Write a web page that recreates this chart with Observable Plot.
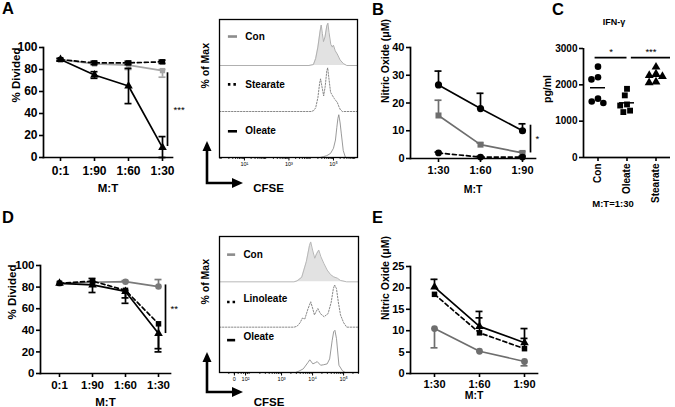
<!DOCTYPE html>
<html>
<head>
<meta charset="utf-8">
<script src="https://cdn.jsdelivr.net/npm/d3@7"></script>
<script src="https://cdn.jsdelivr.net/npm/@observablehq/plot@0.6"></script>
<style>
html,body{margin:0;padding:0;background:#fff;}
#fig{position:relative;width:675px;height:407px;overflow:hidden;background:#fff;}
.panel{position:absolute;}
.panel svg{overflow:visible;display:block;}
#overlay{position:absolute;left:0;top:0;pointer-events:none;}
</style>
</head>
<body>
<div id="fig"></div>
<script>
const FONT = '"Liberation Sans", Arial, Helvetica, sans-serif';

// ================= DATA =================
// Panel A: % divided vs M:T ratio
const A_cats = ["0:1", "1:90", "1:60", "1:30"];
const A_con_v  = [89, 85, 84, 79];
const A_con_lo = [89, 85, 80, 73];
const A_con_hi = [89, 86, 86, 80];
const A_ste_v  = [89, 86, 86, 87];
const A_ste_lo = [88, 84.5, 84.5, 85.5];
const A_ste_hi = [90, 87.5, 87.5, 88.5];
const A_ole_v  = [89, 75, 65, 9];
const A_ole_lo = [88, 72, 49, 0];
const A_ole_hi = [90, 78, 81, 19];
const A_yTicks = [0, 20, 40, 60, 80, 100];
const A_sig = {cat: "1:30", y1: 10, y2: 77, label: "***"};

// Panel A histograms (x in CFSE decades, height in % of max)
const HA_con_x = [3.9, 4.1, 4.2, 4.3, 4.4, 4.45, 4.5, 4.55, 4.62, 4.7, 4.75, 4.8, 4.88, 4.95, 5.0, 5.08, 5.17, 5.3, 5.45, 5.6];
const HA_con_h = [0, 2, 15, 40, 75, 88, 70, 52, 62, 86, 92, 72, 46, 40, 44, 32, 25, 12, 4, 0];
const HA_ste_x = [4.0, 4.11, 4.2, 4.3, 4.38, 4.42, 4.48, 4.56, 4.63, 4.7, 4.74, 4.8, 4.87, 4.95, 5.04, 5.1, 5.17, 5.25, 5.31, 5.4];
const HA_ste_h = [0, 2, 8, 30, 62, 71, 55, 34, 55, 88, 95, 70, 42, 35, 28, 24, 20, 10, 4, 0];
const HA_ole_x = [4.4, 4.56, 4.7, 4.87, 5.0, 5.09, 5.15, 5.2, 5.24, 5.3, 5.35, 5.44, 5.54];
const HA_ole_h = [0, 2, 4, 9, 20, 38, 65, 85, 93, 75, 53, 15, 0];
const HA_tickPos = [1, 3, 5];
const HA_tickLabels = ["10¹", "10³", "10⁵"];

// Panel B: nitric oxide
const B_cats = ["1:30", "1:60", "1:90"];
const B_ole_v  = [26.5, 18, 10];
const B_ole_hi = [31.5, 23.5, 12.5];
const B_con_v  = [15.5, 5, 2];
const B_con_hi = [21, 5.6, 2.5];
const B_ste_v  = [2, 0.5, 0.5];
const B_ste_hi = [2.3, 0.8, 0.8];
const B_yTicks = [0, 10, 20, 30, 40];
const B_sig = {cat: "1:90", y1: 2, y2: 12, label: "*"};

// Panel C: IFN-gamma, M:T = 1:30
const C_groups = ["Con", "Oleate", "Stearate"];
const C_con = [2500, 2210, 2150, 1620, 1540, 1500];
const C_ole = [1890, 1710, 1460, 1430, 1290, 1250];
const C_ste = [2490, 2300, 2260, 2230, 2080, 2060];
const C_yTicks = [0, 1000, 2000, 3000];

// Panel D: % divided
const D_cats = ["0:1", "1:90", "1:60", "1:30"];
const D_con_v  = [83.5, 84.5, 85, 80.5];
const D_con_hi = [83.5, 85.5, 86, 87];
const D_lin_v  = [83.5, 85.5, 77, 46];
const D_lin_lo = [83.5, 85.5, 70, 23];
const D_ole_v  = [83.5, 82, 76, 37];
const D_ole_lo = [83.5, 75, 65, 20];
const D_ole_hi = [83.5, 88, 77, 37];
const D_yTicks = [0, 20, 40, 60, 80, 100];
const D_sig = {cat: "1:30", y1: 37, y2: 82, label: "**"};

// Panel D histograms
const HD_con_x = [3.4, 3.5, 3.65, 3.8, 3.9, 3.94, 4.0, 4.07, 4.13, 4.2, 4.27, 4.36, 4.47, 4.58, 4.68, 4.8, 4.9, 5.1];
const HD_con_h = [0, 2, 10, 45, 80, 88, 70, 52, 62, 70, 55, 41, 26, 16, 11, 8, 3, 0];
const HD_lin_x = [3.4, 3.5, 3.6, 3.67, 3.75, 3.85, 3.94, 4.0, 4.06, 4.12, 4.17, 4.25, 4.37, 4.5, 4.6, 4.67, 4.71, 4.77, 4.83, 4.9, 5.0, 5.1];
const HD_lin_h = [0, 2, 10, 20, 18, 40, 56, 42, 27, 35, 41, 30, 23, 30, 55, 85, 93, 85, 55, 27, 10, 0];
const HD_ole_x = [3.45, 3.56, 3.7, 3.85, 3.91, 4.01, 4.1, 4.15, 4.26, 4.35, 4.47, 4.55, 4.63, 4.68, 4.72, 4.77, 4.85, 4.96, 5.05];
const HD_ole_h = [0, 3, 8, 22, 28, 19, 22, 24, 16, 17, 19, 30, 70, 90, 93, 75, 16, 4, 0];
const HD_tickPos = [1.48, 1.84, 3, 4, 5];
const HD_tickLabels = ["0", "10²", "10³", "10⁴", "10⁵"];

// Panel E: nitric oxide
const E_cats = ["1:30", "1:60", "1:90"];
const E_ole_v  = [20.2, 11, 7.2];
const E_ole_hi = [22, 14.5, 10.5];
const E_lin_v  = [18.5, 9.5, 5.8];
const E_lin_hi = [18.5, 13, 8.2];
const E_con_v  = [10.5, 5.2, 2.8];
const E_con_lo = [6, 5.2, 1.8];
const E_yTicks = [0, 5, 10, 15, 20, 25];

// ================= HELPERS =================
const fig = document.getElementById("fig");
function place(node, left, top) {
  const w = document.createElement("div");
  w.className = "panel";
  w.style.left = left + "px";
  w.style.top = top + "px";
  w.appendChild(node);
  fig.appendChild(w);
}
function rows(cats, v, lo, hi) {
  lo = lo || v; hi = hi || v;
  return cats.map((c, i) => ({cat: c, v: v[i], lo: lo[i], hi: hi[i]}));
}

function linePanel(cfg) {
  const marks = [];
  const sw = 1.7;
  for (const s of cfg.series) {
    const r = s.rows;
    marks.push(Plot.line(r, {x: "cat", y: "v", stroke: s.color, strokeWidth: sw, strokeDasharray: s.dash}));
    marks.push(Plot.ruleX(r.filter(d => d.lo !== d.hi), {x: "cat", y1: "lo", y2: "hi", stroke: s.color, strokeWidth: sw}));
    marks.push(Plot.ruleY(r.filter(d => d.hi > d.v), {y: "hi", x1: "cat", x2: "cat", insetLeft: -3.5, insetRight: -3.5, stroke: s.color, strokeWidth: sw}));
    marks.push(Plot.ruleY(r.filter(d => d.lo < d.v), {y: "lo", x1: "cat", x2: "cat", insetLeft: -3.5, insetRight: -3.5, stroke: s.color, strokeWidth: sw}));
    marks.push(Plot.dot(r, {x: "cat", y: "v", symbol: s.symbol, fill: s.color, stroke: "none", r: s.r || 3.2}));
  }
  if (cfg.sig) {
    marks.push(Plot.ruleX([cfg.sig], {x: "cat", y1: "y1", y2: "y2", dx: cfg.sigDx, strokeWidth: 1.7}));
    marks.push(Plot.text([cfg.sig], {x: "cat", y: d => (d.y1 + d.y2) / 2, text: "label", dx: cfg.sigTextDx, textAnchor: "start", fontSize: 9.5, fontWeight: "normal"}));
  }
  marks.push(Plot.axisY({ticks: cfg.yTicks, tickSize: 4, tickPadding: 2, strokeWidth: 1.6, label: null}));
  marks.push(Plot.axisX({tickSize: 4, tickPadding: cfg.xTickPad, strokeWidth: 1.6, label: null}));
  marks.push(Plot.frame({anchor: "left", strokeWidth: 1.7}));
  marks.push(Plot.frame({anchor: "bottom", strokeWidth: 1.7}));
  marks.push(Plot.text([cfg.yLabel], {text: d => d, frameAnchor: "left", rotate: -90, dx: cfg.yLabelDx, lineAnchor: "middle", fontSize: cfg.labelFont}));
  marks.push(Plot.text(["M:T"], {text: d => d, frameAnchor: "bottom", dy: cfg.xLabelDy, lineAnchor: "middle", fontSize: cfg.labelFont}));
  return Plot.plot({
    width: cfg.width, height: cfg.height,
    marginLeft: cfg.mL, marginRight: cfg.mR, marginTop: cfg.mT, marginBottom: cfg.mB,
    x: {type: "point", domain: cfg.cats, range: cfg.xRange, padding: 0, align: 0.5},
    y: {domain: cfg.yDomain},
    style: {fontFamily: FONT, fontSize: cfg.tickFont + "px", fontWeight: "bold", background: "none", overflow: "visible", color: "black"},
    marks
  });
}

function histPanel(cfg) {
  const marks = [];
  const n = cfg.curves.length;
  const [x0, x1] = cfg.xDomain;
  cfg.curves.forEach((c, i) => {
    const off = (n - 1 - i) * 100;
    const pts = [{x: x0, h: 0}, ...c.xs.map((x, j) => ({x, h: c.hs[j]})), {x: x1, h: 0}];
    if (c.fill) marks.push(Plot.areaY(pts, {x: "x", y1: () => off, y2: d => d.h + off, fill: c.fill}));
    marks.push(Plot.line(pts, {x: "x", y: d => d.h + off, stroke: c.stroke, strokeWidth: c.width, strokeDasharray: c.dash}));
    const leg = [{name: c.name, y: off + cfg.legendY[i]}];
    marks.push(Plot.ruleY(leg, {y: "y", x1: () => cfg.swatchX[0], x2: () => cfg.swatchX[1], stroke: c.swatch, strokeWidth: 2.6, strokeDasharray: c.swatchDash, dy: c.swatchDy || 0}));
    marks.push(Plot.text(leg, {x: () => cfg.textX, y: "y", text: "name", textAnchor: "start", lineAnchor: "middle", fontSize: 10, fontWeight: "bold"}));
  });
  const minor = [];
  for (let dec = Math.floor(x0); dec <= Math.ceil(x1); dec++)
    for (let k = 2; k <= 9; k++) { const t = dec + Math.log10(k); if (t > x0 && t < x1) minor.push(t); }
  marks.push(Plot.axisX({ticks: minor, tickSize: 2, tickFormat: () => "", label: null, strokeWidth: 0.8}));
  marks.push(Plot.axisX({ticks: cfg.tickPos, tickSize: 3.5, tickPadding: 1.5, tickFormat: d => cfg.tickLabels[cfg.tickPos.indexOf(d)], label: null, fontSize: 5.5, fontWeight: "normal", strokeWidth: 1}));
  marks.push(Plot.frame({stroke: "black", strokeWidth: 1.3}));
  marks.push(Plot.text(["% of Max"], {text: d => d, frameAnchor: "left", rotate: -90, dx: -14, lineAnchor: "middle", fontSize: 10.5, fontWeight: "bold"}));
  marks.push(Plot.text(["CFSE"], {text: d => d, frameAnchor: "bottom", dx: cfg.cfseDx, dy: cfg.cfseDy, lineAnchor: "middle", fontSize: 11.5, fontWeight: "bold"}));
  return Plot.plot({
    width: cfg.width, height: cfg.height,
    marginLeft: cfg.mL, marginRight: cfg.mR, marginTop: cfg.mT, marginBottom: cfg.mB,
    x: {domain: cfg.xDomain},
    y: {domain: [0, n * 100], axis: null},
    style: {fontFamily: FONT, fontSize: "10px", background: "none", overflow: "visible", color: "black"},
    marks
  });
}

// ================= PANEL A =================
place(linePanel({
  width: 200, height: 200, mL: 43, mR: 28, mT: 47, mB: 43,
  cats: A_cats, xRange: [59, 163], yDomain: [0, 100], yTicks: A_yTicks,
  yLabel: "% Divided", yLabelDx: -27, xLabelDy: 31, xTickPad: 5, tickFont: 12, labelFont: 11.5,
  sig: A_sig, sigDx: 5, sigTextDx: 11,
  series: [
    {rows: rows(A_cats, A_con_v, A_con_lo, A_con_hi), color: "#a6a6a6", symbol: "square", r: 3},
    {rows: rows(A_cats, A_ste_v, A_ste_lo, A_ste_hi), color: "black", dash: "4,3", symbol: "square", r: 3},
    {rows: rows(A_cats, A_ole_v, A_ole_lo, A_ole_hi), color: "black", symbol: "triangle", r: 3.2}
  ]
}), 0, 0);

place(histPanel({
  width: 175, height: 200, mL: 24, mR: 13, mT: 19, mB: 43,
  xDomain: [-0.12, 6.08], tickPos: HA_tickPos, tickLabels: HA_tickLabels,
  legendY: [63, 59, 57], swatchX: [0.28, 0.69], textX: 1.04, cfseDx: -20, cfseDy: 31,
  curves: [
    {name: "Con", xs: HA_con_x, hs: HA_con_h, fill: "#e2e2e2", stroke: "#b0b0b0", width: 1, swatch: "#8c8c8c"},
    {name: "Stearate", xs: HA_ste_x, hs: HA_ste_h, stroke: "#6a6a6a", width: 0.8, dash: "1.5,1.5", swatch: "black", swatchDash: "2.5,3"},
    {name: "Oleate", xs: HA_ole_x, hs: HA_ole_h, stroke: "#808080", width: 0.8, swatch: "black"}
  ]
}), 195, 0);

// ================= PANEL B =================
place(linePanel({
  width: 180, height: 200, mL: 40, mR: 15, mT: 47, mB: 42,
  cats: B_cats, xRange: [67, 152], yDomain: [0, 40], yTicks: B_yTicks,
  yLabel: "Nitric Oxide (μM)", yLabelDx: -25, xLabelDy: 31, xTickPad: 4, tickFont: 11, labelFont: 10.5,
  sig: B_sig, sigDx: 8, sigTextDx: 13,
  series: [
    {rows: rows(B_cats, B_con_v, B_con_v, B_con_hi), color: "#6e6e6e", symbol: "square", r: 3.4},
    {rows: rows(B_cats, B_ste_v, B_ste_v, B_ste_hi), color: "black", dash: "4,3", symbol: "circle", r: 3.4},
    {rows: rows(B_cats, B_ole_v, B_ole_v, B_ole_hi), color: "black", symbol: "circle", r: 3.6}
  ]
}), 370, 0);

// ================= PANEL C =================
const C_rows = [
  ...C_con.map(v => ({group: "Con", v})),
  ...C_ole.map(v => ({group: "Oleate", v})),
  ...C_ste.map(v => ({group: "Stearate", v}))
];
const C_sig = [
  {g: "Con", x1: -0.1, x2: 1.0, y: 2750, label: "*"},
  {g: "Oleate", x1: 0.15, x2: 1.5, y: 2750, label: "***"}
];
place(Plot.plot({
  width: 125, height: 207, marginLeft: 33, marginRight: 5, marginTop: 48, marginBottom: 50,
  fx: {domain: C_groups, padding: 0, label: null},
  x: {domain: [-0.5, 0.5], axis: null},
  y: {domain: [0, 3000]},
  symbol: {domain: C_groups, range: ["circle", "square", "triangle"]},
  style: {fontFamily: FONT, fontSize: "10px", fontWeight: "bold", background: "none", overflow: "visible", color: "black"},
  marks: [
    Plot.axisY({ticks: C_yTicks, tickFormat: d => String(d), tickSize: 4, tickPadding: 2, strokeWidth: 1.6, label: null}),
    Plot.axisFx({anchor: "bottom", tickSize: 4, tickRotate: -90, tickPadding: 2, label: null, strokeWidth: 1.6}),
    Plot.ruleY([0], {strokeWidth: 1.7}),
    Plot.ruleX([{g: "Con", x: -0.5}], {fx: "g", x: "x", strokeWidth: 1.7}),
    Plot.text([{g: "Con", t: "pg/ml"}], {fx: "g", text: "t", frameAnchor: "left", rotate: -90, dx: -36, lineAnchor: "middle", fontSize: 10.5}),
    Plot.dot(C_rows, Plot.dodgeX({anchor: "middle", padding: 0.3}, {fx: "group", y: "v", symbol: "group", fill: "black", r: 3.3})),
    Plot.tickY(C_rows, Plot.groupZ({y: "mean"}, {fx: "group", y: "v", insetLeft: 7, insetRight: 7, strokeWidth: 1.5})),
    Plot.ruleY(C_sig, {fx: "g", y: "y", x1: "x1", x2: "x2", strokeWidth: 1.7}),
    Plot.text(C_sig, {fx: "g", x: d => (d.x1 + d.x2) / 2, y: "y", text: "label", dy: -6, fontSize: 9.5, fontWeight: "normal"})
  ]
}), 550, 0);

// ================= PANEL D =================
place(linePanel({
  width: 200, height: 207, mL: 40, mR: 30, mT: 65, mB: 34,
  cats: D_cats, xRange: [58, 159], yDomain: [0, 100], yTicks: D_yTicks,
  yLabel: "% Divided", yLabelDx: -28, xLabelDy: 29, xTickPad: 3, tickFont: 11.5, labelFont: 11.5,
  sig: D_sig, sigDx: 7, sigTextDx: 12,
  series: [
    {rows: rows(D_cats, D_con_v, D_con_v, D_con_hi), color: "#7a7a7a", symbol: "circle", r: 3.3},
    {rows: rows(D_cats, D_lin_v, D_lin_lo, D_lin_v), color: "black", dash: "4,3", symbol: "square", r: 3.1},
    {rows: rows(D_cats, D_ole_v, D_ole_lo, D_ole_hi), color: "black", symbol: "triangle", r: 3.2}
  ]
}), 0, 200);

place(histPanel({
  width: 175, height: 207, mL: 24, mR: 12, mT: 36, mB: 35,
  xDomain: [1.0, 5.48], tickPos: HD_tickPos, tickLabels: HD_tickLabels,
  legendY: [60, 62, 78], swatchX: [1.26, 1.52], textX: 1.77, cfseDx: -20, cfseDy: 30,
  curves: [
    {name: "Con", xs: HD_con_x, hs: HD_con_h, fill: "#e2e2e2", stroke: "#b8b8b8", width: 1, swatch: "#8c8c8c"},
    {name: "Linoleate", xs: HD_lin_x, hs: HD_lin_h, stroke: "#6a6a6a", width: 0.8, dash: "1.5,1.5", swatch: "black", swatchDash: "2.5,3", swatchDy: 3},
    {name: "Oleate", xs: HD_ole_x, hs: HD_ole_h, stroke: "#808080", width: 0.8, swatch: "black", swatchDy: 3}
  ]
}), 195, 200);

// ================= PANEL E =================
place(linePanel({
  width: 180, height: 207, mL: 40, mR: 13, mT: 66, mB: 34,
  cats: E_cats, xRange: [63, 154], yDomain: [0, 25], yTicks: E_yTicks,
  yLabel: "Nitric Oxide (μM)", yLabelDx: -25, xLabelDy: 22, xTickPad: 3, tickFont: 11, labelFont: 10.5,
  series: [
    {rows: rows(E_cats, E_con_v, E_con_lo, E_con_v), color: "#6e6e6e", symbol: "circle", r: 3.4},
    {rows: rows(E_cats, E_lin_v, E_lin_v, E_lin_hi), color: "black", dash: "4,3", symbol: "square", r: 3.1},
    {rows: rows(E_cats, E_ole_v, E_ole_v, E_ole_hi), color: "black", symbol: "triangle", r: 3.2}
  ]
}), 370, 200);

// ================= OVERLAY: panel letters, titles, CFSE arrows =================
const ov = document.createElementNS("http://www.w3.org/2000/svg", "svg");
ov.setAttribute("id", "overlay");
ov.setAttribute("width", 675);
ov.setAttribute("height", 407);
ov.innerHTML = `
<g font-family='${FONT}' font-weight='bold' fill='black'>
  <text x='2' y='14' font-size='16.5'>A</text>
  <text x='372' y='15' font-size='16.5'>B</text>
  <text x='552' y='15' font-size='16.5'>C</text>
  <text x='2' y='223' font-size='16.5'>D</text>
  <text x='372' y='223' font-size='16.5'>E</text>
  <text x='614' y='25' font-size='9' text-anchor='middle'>IFN-γ</text>
  <text x='613' y='207' font-size='9.5' text-anchor='middle'>M:T=1:30</text>
</g>
<g stroke='black' stroke-width='2.6' fill='none'>
  <path d='M207,183 V150 M205.7,183 H233'/>
  <path d='M207,392 V361 M205.7,392 H233'/>
</g>
<g fill='black'>
  <path d='M202.5,151 L211.5,151 L207,141 Z'/>
  <path d='M232,178 L232,188 L243,183 Z'/>
  <path d='M202.5,362 L211.5,362 L207,352 Z'/>
  <path d='M232,387 L232,397 L243,392 Z'/>
</g>`;
fig.appendChild(ov);
</script>
</body>
</html>
